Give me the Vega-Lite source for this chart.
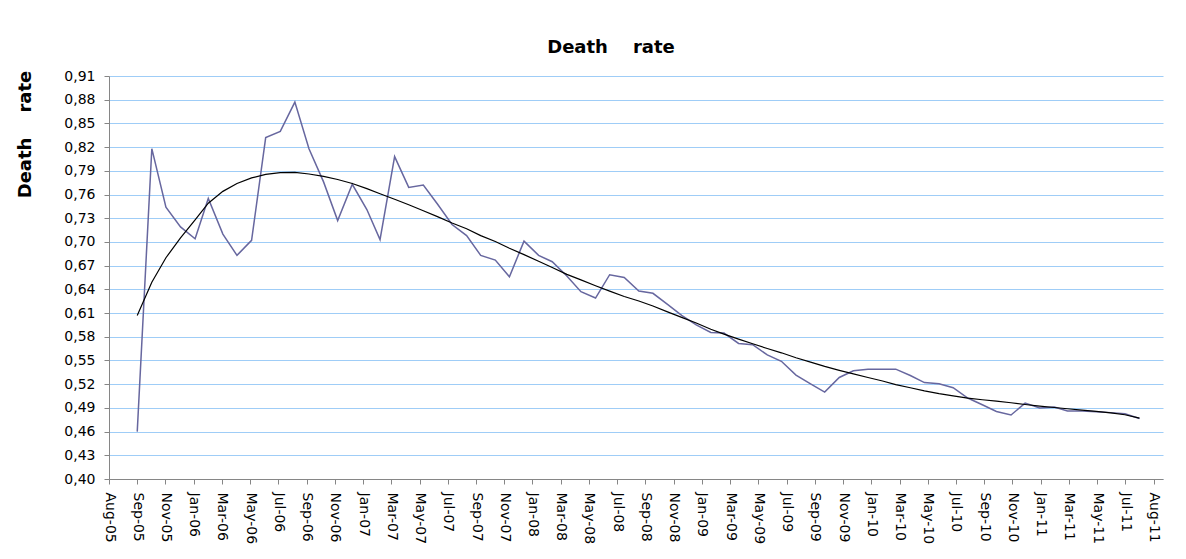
{
  "$schema": "https://vega.github.io/schema/vega-lite/v6.json",
  "autosize": {"type": "none"},
  "width": 1054,
  "height": 403,
  "padding": {"left": 109, "top": 76, "right": 23, "bottom": 80},
  "background": "white",
  "title": {
    "text": "Death\u00a0\u00a0\u00a0\u00a0rate",
    "font": "DejaVu Sans",
    "fontSize": 18,
    "fontWeight": "bold",
    "color": "black",
    "anchor": "middle",
    "baseline": "alphabetic",
    "offset": -2,
    "dx": -25
  },
  "config": {
    "view": {"stroke": null},
    "axis": {
      "labelFont": "DejaVu Sans",
      "labelFontSize": 14,
      "labelColor": "black",
      "titleFont": "DejaVu Sans",
      "titleColor": "black",
      "domainColor": "#868686",
      "tickColor": "#868686",
      "tickSize": 5,
      "domainWidth": 1,
      "tickWidth": 1
    }
  },
  "data": {
    "format": {"parse": {"date": "utc:'%Y-%m-%d'"}},
    "values": [
      {"date": "2005-09-30", "rate": 0.460, "trend": 0.607},
      {"date": "2005-10-31", "rate": 0.818, "trend": 0.649},
      {"date": "2005-11-30", "rate": 0.744, "trend": 0.680},
      {"date": "2005-12-31", "rate": 0.719, "trend": 0.705},
      {"date": "2006-01-31", "rate": 0.704, "trend": 0.728},
      {"date": "2006-02-28", "rate": 0.755, "trend": 0.749},
      {"date": "2006-03-31", "rate": 0.710, "trend": 0.764},
      {"date": "2006-04-30", "rate": 0.683, "trend": 0.774},
      {"date": "2006-05-31", "rate": 0.702, "trend": 0.781},
      {"date": "2006-06-30", "rate": 0.832, "trend": 0.7855},
      {"date": "2006-07-31", "rate": 0.840, "trend": 0.7876},
      {"date": "2006-08-31", "rate": 0.877, "trend": 0.788},
      {"date": "2006-09-30", "rate": 0.818, "trend": 0.786},
      {"date": "2006-10-31", "rate": 0.776, "trend": 0.783},
      {"date": "2006-11-30", "rate": 0.727, "trend": 0.779},
      {"date": "2006-12-31", "rate": 0.773, "trend": 0.774},
      {"date": "2007-01-31", "rate": 0.741, "trend": 0.7675},
      {"date": "2007-02-28", "rate": 0.703, "trend": 0.761},
      {"date": "2007-03-31", "rate": 0.808, "trend": 0.754},
      {"date": "2007-04-30", "rate": 0.769, "trend": 0.747},
      {"date": "2007-05-31", "rate": 0.772, "trend": 0.7395},
      {"date": "2007-06-30", "rate": 0.748, "trend": 0.732},
      {"date": "2007-07-31", "rate": 0.722, "trend": 0.724},
      {"date": "2007-08-31", "rate": 0.708, "trend": 0.7167},
      {"date": "2007-09-30", "rate": 0.683, "trend": 0.708},
      {"date": "2007-10-31", "rate": 0.677, "trend": 0.7005},
      {"date": "2007-11-30", "rate": 0.656, "trend": 0.692},
      {"date": "2007-12-31", "rate": 0.701, "trend": 0.684},
      {"date": "2008-01-31", "rate": 0.683, "trend": 0.6755},
      {"date": "2008-02-29", "rate": 0.675, "trend": 0.6677},
      {"date": "2008-03-31", "rate": 0.657, "trend": 0.659},
      {"date": "2008-04-30", "rate": 0.637, "trend": 0.652},
      {"date": "2008-05-31", "rate": 0.629, "trend": 0.6446},
      {"date": "2008-06-30", "rate": 0.6585, "trend": 0.6378},
      {"date": "2008-07-31", "rate": 0.655, "trend": 0.631},
      {"date": "2008-08-31", "rate": 0.638, "trend": 0.6252},
      {"date": "2008-09-30", "rate": 0.635, "trend": 0.619},
      {"date": "2008-10-31", "rate": 0.621, "trend": 0.6115},
      {"date": "2008-11-30", "rate": 0.607, "trend": 0.6045},
      {"date": "2008-12-31", "rate": 0.595, "trend": 0.5975},
      {"date": "2009-01-31", "rate": 0.5855, "trend": 0.5895},
      {"date": "2009-02-28", "rate": 0.5847, "trend": 0.5834},
      {"date": "2009-03-31", "rate": 0.5715, "trend": 0.577},
      {"date": "2009-04-30", "rate": 0.570, "trend": 0.5711},
      {"date": "2009-05-31", "rate": 0.557, "trend": 0.5652},
      {"date": "2009-06-30", "rate": 0.549, "trend": 0.5597},
      {"date": "2009-07-31", "rate": 0.5315, "trend": 0.5535},
      {"date": "2009-08-31", "rate": 0.5205, "trend": 0.548},
      {"date": "2009-09-30", "rate": 0.510, "trend": 0.5425},
      {"date": "2009-10-31", "rate": 0.5285, "trend": 0.5375},
      {"date": "2009-11-30", "rate": 0.537, "trend": 0.533},
      {"date": "2009-12-31", "rate": 0.539, "trend": 0.5285},
      {"date": "2010-01-31", "rate": 0.539, "trend": 0.524},
      {"date": "2010-02-28", "rate": 0.539, "trend": 0.5195},
      {"date": "2010-03-31", "rate": 0.531, "trend": 0.5155},
      {"date": "2010-04-30", "rate": 0.522, "trend": 0.5115},
      {"date": "2010-05-31", "rate": 0.5205, "trend": 0.508},
      {"date": "2010-06-30", "rate": 0.5155, "trend": 0.5053},
      {"date": "2010-07-31", "rate": 0.5025, "trend": 0.5024},
      {"date": "2010-08-31", "rate": 0.494, "trend": 0.5003},
      {"date": "2010-09-30", "rate": 0.4855, "trend": 0.4986},
      {"date": "2010-10-31", "rate": 0.481, "trend": 0.4965},
      {"date": "2010-11-30", "rate": 0.496, "trend": 0.4943},
      {"date": "2010-12-31", "rate": 0.490, "trend": 0.4923},
      {"date": "2011-01-31", "rate": 0.491, "trend": 0.4905},
      {"date": "2011-02-28", "rate": 0.486, "trend": 0.4889},
      {"date": "2011-03-31", "rate": 0.486, "trend": 0.4872},
      {"date": "2011-04-30", "rate": 0.485, "trend": 0.4855},
      {"date": "2011-05-31", "rate": 0.484, "trend": 0.4838},
      {"date": "2011-06-30", "rate": 0.4825, "trend": 0.4813},
      {"date": "2011-07-31", "rate": 0.4766, "trend": 0.4771}
    ]
  },
  "encoding": {
    "x": {
      "field": "date",
      "type": "temporal",
      "scale": {
        "type": "utc",
        "domain": [
          {"year": 2005, "month": 8, "date": 1, "utc": true},
          {"year": 2011, "month": 9, "date": 19, "utc": true}
        ]
      },
      "axis": {
        "title": null,
        "labelExpr": "utcFormat(datum.value, '%b-%y')",
        "labelAngle": 90,
        "labelAlign": "left",
        "labelBaseline": "middle",
        "labelPadding": 8,
        "labelOverlap": false,
        "labelFlush": false,
        "grid": false,
        "values": [
          {"year": 2005, "month": 8, "date": 1, "utc": true},
          {"year": 2005, "month": 9, "date": 30, "utc": true},
          {"year": 2005, "month": 11, "date": 29, "utc": true},
          {"year": 2006, "month": 1, "date": 28, "utc": true},
          {"year": 2006, "month": 3, "date": 29, "utc": true},
          {"year": 2006, "month": 5, "date": 28, "utc": true},
          {"year": 2006, "month": 7, "date": 27, "utc": true},
          {"year": 2006, "month": 9, "date": 25, "utc": true},
          {"year": 2006, "month": 11, "date": 24, "utc": true},
          {"year": 2007, "month": 1, "date": 23, "utc": true},
          {"year": 2007, "month": 3, "date": 24, "utc": true},
          {"year": 2007, "month": 5, "date": 23, "utc": true},
          {"year": 2007, "month": 7, "date": 22, "utc": true},
          {"year": 2007, "month": 9, "date": 20, "utc": true},
          {"year": 2007, "month": 11, "date": 19, "utc": true},
          {"year": 2008, "month": 1, "date": 18, "utc": true},
          {"year": 2008, "month": 3, "date": 18, "utc": true},
          {"year": 2008, "month": 5, "date": 17, "utc": true},
          {"year": 2008, "month": 7, "date": 16, "utc": true},
          {"year": 2008, "month": 9, "date": 14, "utc": true},
          {"year": 2008, "month": 11, "date": 13, "utc": true},
          {"year": 2009, "month": 1, "date": 12, "utc": true},
          {"year": 2009, "month": 3, "date": 13, "utc": true},
          {"year": 2009, "month": 5, "date": 12, "utc": true},
          {"year": 2009, "month": 7, "date": 11, "utc": true},
          {"year": 2009, "month": 9, "date": 9, "utc": true},
          {"year": 2009, "month": 11, "date": 8, "utc": true},
          {"year": 2010, "month": 1, "date": 7, "utc": true},
          {"year": 2010, "month": 3, "date": 8, "utc": true},
          {"year": 2010, "month": 5, "date": 7, "utc": true},
          {"year": 2010, "month": 7, "date": 6, "utc": true},
          {"year": 2010, "month": 9, "date": 4, "utc": true},
          {"year": 2010, "month": 11, "date": 3, "utc": true},
          {"year": 2011, "month": 1, "date": 2, "utc": true},
          {"year": 2011, "month": 3, "date": 3, "utc": true},
          {"year": 2011, "month": 5, "date": 2, "utc": true},
          {"year": 2011, "month": 7, "date": 1, "utc": true},
          {"year": 2011, "month": 8, "date": 30, "utc": true}
        ]
      }
    }
  },
  "layer": [
    {
      "mark": {"type": "line", "color": "#67679f", "strokeWidth": 1.5, "interpolate": "linear"},
      "encoding": {
        "y": {
          "field": "rate",
          "type": "quantitative",
          "scale": {"domain": [0.40, 0.91], "nice": false, "zero": false},
          "axis": {
            "title": "Death\u00a0\u00a0\u00a0\u00a0rate",
            "titleFontSize": 18,
            "titleFontWeight": "bold",
            "titleAngle": 270,
            "titleAlign": "center",
            "titleBaseline": "middle",
            "titleX": -84,
            "titleY": 58,
            "values": [0.40, 0.43, 0.46, 0.49, 0.52, 0.55, 0.58, 0.61, 0.64, 0.67, 0.70, 0.73, 0.76, 0.79, 0.82, 0.85, 0.88, 0.91],
            "labelExpr": "replace(format(datum.value, '.2f'), '.', ',')",
            "labelPadding": 9,
            "labelOverlap": false,
            "labelFlush": false,
            "grid": true,
            "gridColor": "#9fcdf7",
            "gridWidth": 1
          }
        }
      }
    },
    {
      "mark": {"type": "line", "color": "black", "strokeWidth": 1.2, "interpolate": "linear"},
      "encoding": {
        "y": {
          "field": "trend",
          "type": "quantitative",
          "scale": {"domain": [0.40, 0.91], "nice": false, "zero": false},
          "axis": {
            "title": "Death\u00a0\u00a0\u00a0\u00a0rate",
            "titleFontSize": 18,
            "titleFontWeight": "bold",
            "titleAngle": 270,
            "titleAlign": "center",
            "titleBaseline": "middle",
            "titleX": -84,
            "titleY": 58,
            "values": [0.40, 0.43, 0.46, 0.49, 0.52, 0.55, 0.58, 0.61, 0.64, 0.67, 0.70, 0.73, 0.76, 0.79, 0.82, 0.85, 0.88, 0.91],
            "labelExpr": "replace(format(datum.value, '.2f'), '.', ',')",
            "labelPadding": 9,
            "labelOverlap": false,
            "labelFlush": false,
            "grid": true,
            "gridColor": "#9fcdf7",
            "gridWidth": 1
          }
        }
      }
    }
  ]
}
